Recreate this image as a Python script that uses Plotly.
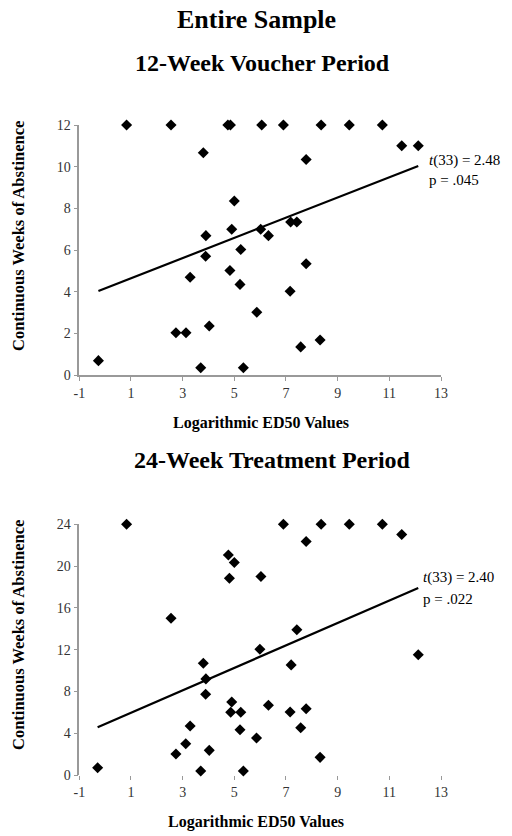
import plotly.graph_objects as go

# ---------------- data ----------------
# 12-week voucher period
x_12wk = [0.83, 2.55, 4.75, 4.85, 6.06, 6.90, 8.36, 9.45, 10.73, 11.48, 12.12,
          3.80, 7.78, 5.00, 4.90, 6.02, 3.90, 6.32, 7.18, 7.42, 5.25, 3.89,
          7.78, 4.83, 3.29, 5.22, 7.16, 5.87, 2.74, 3.13, 4.03, 8.32, 7.57,
          -0.26, 3.70, 5.35]
y_12wk = [12, 12, 12, 12, 12, 12, 12, 12, 12, 11.0, 11.0,
          10.67, 10.34, 8.35, 7.0, 7.0, 6.69, 6.69, 7.34, 7.34, 6.02, 5.70,
          5.34, 5.02, 4.69, 4.35, 4.02, 3.01, 2.03, 2.03, 2.35, 1.68, 1.35,
          0.69, 0.35, 0.35]

# 24-week treatment period
x_24wk = [-0.29, 0.83, 2.55, 4.77, 5.00, 4.81, 6.03, 5.99, 3.80, 3.90, 3.89,
          4.90, 4.86, 5.25, 5.22, 3.29, 5.86, 2.74, 3.12, 4.03, 3.70, 5.35,
          6.90, 8.36, 9.45, 10.73, 11.48, 7.78, 7.42, 12.12, 7.20, 6.32,
          7.16, 7.78, 7.57, 8.32]
y_24wk = [0.70, 24, 15.0, 21.07, 20.34, 18.84, 19.0, 12.04, 10.70, 9.20, 7.73,
          6.99, 6.0, 6.0, 4.34, 4.69, 3.54, 2.01, 3.0, 2.36, 0.38, 0.38,
          24, 24, 24, 24, 23.02, 22.35, 13.9, 11.52, 10.54, 6.68,
          6.03, 6.35, 4.53, 1.69]

# regression lines (slope, intercept)
trend_12wk = (0.485, 4.156)
trend_24wk = (1.075, 4.88)

x_ticks = [-1, 1, 3, 5, 7, 9, 11, 13]
y_ticks_12wk = [0, 2, 4, 6, 8, 10, 12]
y_ticks_24wk = [0, 4, 8, 12, 16, 20, 24]

main_title = "<b>Entire Sample</b>"
title_12wk = "<b>12-Week Voucher Period</b>"
title_24wk = "<b>24-Week Treatment Period</b>"
x_title = "<b>Logarithmic ED50 Values</b>"
y_title = "<b>Continuous Weeks of Abstinence</b>"
stat_12wk = ["<i>t</i>(33) = 2.48", "p = .045"]
stat_24wk = ["<i>t</i>(33) = 2.40", "p = .022"]

# ---------------- layout helpers ----------------
# page body has an 8px margin, so the figure is shrunk to fit the window
OFF = 8
W, H = 512 - OFF, 836 - OFF
SERIF = "Liberation Serif, Times New Roman, serif"


def px_x(p):
    return (p - OFF) / W


def px_y(p):
    return 1 - (p - OFF) / H


fig = go.Figure()

for i, (xs, ys, tr) in enumerate([(x_12wk, y_12wk, trend_12wk),
                                   (x_24wk, y_24wk, trend_24wk)]):
    ax = "" if i == 0 else "2"
    fig.add_trace(go.Scatter(
        x=xs, y=ys, mode="markers", xaxis="x" + ax, yaxis="y" + ax,
        marker=dict(symbol="diamond", size=8.5, color="black"),
        cliponaxis=False, showlegend=False, hoverinfo="x+y"))
    x0, x1 = min(xs), max(xs)
    fig.add_trace(go.Scatter(
        x=[x0, x1], y=[tr[1] + tr[0] * x0, tr[1] + tr[0] * x1],
        mode="lines", xaxis="x" + ax, yaxis="y" + ax,
        line=dict(color="black", width=2.2),
        cliponaxis=False, showlegend=False, hoverinfo="skip"))

x_dom = [px_x(79.3), px_x(441)]
axis_common = dict(
    range=[-1, 13], tickvals=x_ticks, ticktext=[str(v) for v in x_ticks],
    ticks="outside", ticklen=4, tickcolor="#999", tickwidth=1,
    showgrid=False, zeroline=False, domain=x_dom,
    tickfont=dict(family=SERIF, size=14, color="#333"),
)

fig.update_layout(
    width=W, height=H,
    margin=dict(l=0, r=0, t=0, b=0, autoexpand=False),
    paper_bgcolor="white", plot_bgcolor="white",
    showlegend=False,
    xaxis=dict(**axis_common, anchor="y", showline=True, linecolor="#999", linewidth=1.5),
    xaxis2=dict(**axis_common, anchor="y2", showline=False),
    yaxis=dict(range=[0, 12], tickvals=y_ticks_12wk, domain=[px_y(375), px_y(125)],
               anchor="x", showline=True, linecolor="#999", linewidth=1.5,
               ticks="outside", ticklen=4, tickcolor="#999", showgrid=False,
               zeroline=False, tickfont=dict(family=SERIF, size=14, color="#333")),
    yaxis2=dict(range=[0, 24], tickvals=y_ticks_24wk, domain=[px_y(775), px_y(524.3)],
                anchor="x2", showline=True, linecolor="#999", linewidth=1.5,
                ticks="outside", ticklen=4, tickcolor="#999", showgrid=False,
                zeroline=False, tickfont=dict(family=SERIF, size=14, color="#333")),
)

anns = []


def text(t, x, y, size, xanchor="center", angle=0):
    anns.append(dict(text=t, x=px_x(x), y=px_y(y), xref="paper", yref="paper",
                     xanchor=xanchor, yanchor="middle", showarrow=False,
                     textangle=angle, borderpad=0,
                     font=dict(family=SERIF, size=size, color="black")))


text(main_title, 256, 20, 26)
text(title_12wk, 262, 63, 24)
text(title_24wk, 272, 460, 24)
text(x_title, 261, 423, 16)
text(x_title, 256, 822, 16)
text(y_title, 18, 236, 16.5, angle=-90)
text(y_title, 18, 635, 16.5, angle=-90)
text(stat_12wk[0], 428, 160, 15, xanchor="left")
text(stat_12wk[1], 428, 180, 15, xanchor="left")
text(stat_24wk[0], 422, 577, 15, xanchor="left")
text(stat_24wk[1], 422, 599, 15, xanchor="left")

fig.update_layout(annotations=anns)

fig.write_html("out.html")
